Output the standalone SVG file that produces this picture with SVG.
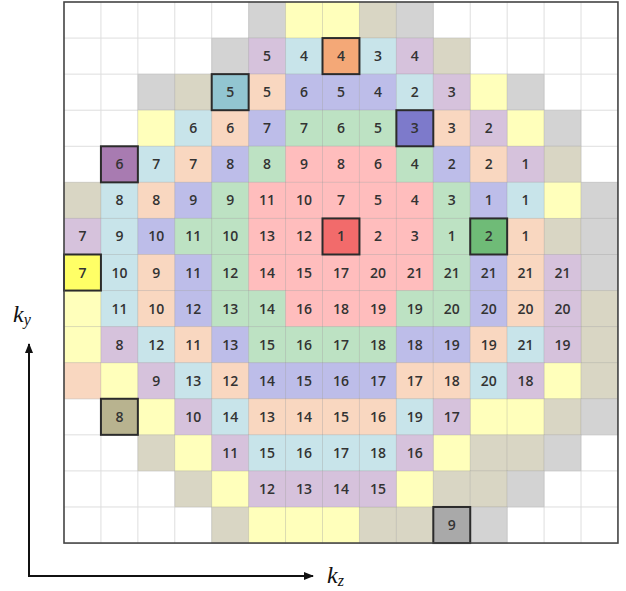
<svg xmlns="http://www.w3.org/2000/svg" width="626" height="591" viewBox="0 0 626 591">
<style>
.g{fill:#d3d3d3}.t{fill:#d9d6c4}.y{fill:#ffffbb}.lb{fill:#c8e4ea}.lv{fill:#d6c2dc}.pc{fill:#f9d7c0}.pw{fill:#bdbde9}.gn{fill:#bde2c3}.pk{fill:#ffbdbd}
#cells rect,#shading rect{stroke:rgba(110,110,110,0.14);stroke-width:1}
.h{stroke:#2b2b2b !important;stroke-width:2 !important}
text.n{font-family:"Open Sans","Liberation Sans",sans-serif;font-size:14px;font-weight:600;fill:#333;text-anchor:middle}
.ax{font-family:"Liberation Serif",serif;font-style:italic;fill:#111}
</style>
<defs>
<marker id="ah" markerWidth="10" markerHeight="8" refX="9" refY="4" orient="auto" markerUnits="userSpaceOnUse">
<path d="M0,0 L10,4 L0,8 z" fill="#111"/>
</marker>
</defs>
<rect x="0" y="0" width="626" height="591" fill="#fff"/>
<g id="grid" stroke="#dedede" stroke-width="1" fill="none">
<path d="M100.93,2V543.05M137.86,2V543.05M174.79,2V543.05M211.72,2V543.05M248.65,2V543.05M285.58,2V543.05M322.51,2V543.05M359.44,2V543.05M396.37,2V543.05M433.3,2V543.05M470.23,2V543.05M507.16,2V543.05M544.09,2V543.05M581.02,2V543.05M64,38.07H617.95M64,74.14H617.95M64,110.21H617.95M64,146.28H617.95M64,182.35H617.95M64,218.42H617.95M64,254.49H617.95M64,290.56H617.95M64,326.63H617.95M64,362.7H617.95M64,398.77H617.95M64,434.84H617.95M64,470.91H617.95M64,506.98H617.95"/>
</g>
<g id="shading">
<rect class="g" x="248.65" y="2" width="36.93" height="36.07"/>
<rect class="y" x="285.58" y="2" width="36.93" height="36.07"/>
<rect class="y" x="322.51" y="2" width="36.93" height="36.07"/>
<rect class="t" x="359.44" y="2" width="36.93" height="36.07"/>
<rect class="g" x="396.37" y="2" width="36.93" height="36.07"/>
<rect class="g" x="211.72" y="38.07" width="36.93" height="36.07"/>
<rect class="t" x="433.3" y="38.07" width="36.93" height="36.07"/>
<rect class="g" x="137.86" y="74.14" width="36.93" height="36.07"/>
<rect class="t" x="174.79" y="74.14" width="36.93" height="36.07"/>
<rect class="y" x="470.23" y="74.14" width="36.93" height="36.07"/>
<rect class="g" x="507.16" y="74.14" width="36.93" height="36.07"/>
<rect class="y" x="137.86" y="110.21" width="36.93" height="36.07"/>
<rect class="y" x="507.16" y="110.21" width="36.93" height="36.07"/>
<rect class="g" x="544.09" y="110.21" width="36.93" height="36.07"/>
<rect class="t" x="544.09" y="146.28" width="36.93" height="36.07"/>
<rect class="t" x="64" y="182.35" width="36.93" height="36.07"/>
<rect class="y" x="544.09" y="182.35" width="36.93" height="36.07"/>
<rect class="g" x="581.02" y="182.35" width="36.93" height="36.07"/>
<rect class="t" x="544.09" y="218.42" width="36.93" height="36.07"/>
<rect class="g" x="581.02" y="218.42" width="36.93" height="36.07"/>
<rect class="g" x="581.02" y="254.49" width="36.93" height="36.07"/>
<rect class="y" x="64" y="290.56" width="36.93" height="36.07"/>
<rect class="t" x="581.02" y="290.56" width="36.93" height="36.07"/>
<rect class="y" x="64" y="326.63" width="36.93" height="36.07"/>
<rect class="t" x="581.02" y="326.63" width="36.93" height="36.07"/>
<rect class="pc" x="64" y="362.7" width="36.93" height="36.07"/>
<rect class="y" x="100.93" y="362.7" width="36.93" height="36.07"/>
<rect class="y" x="544.09" y="362.7" width="36.93" height="36.07"/>
<rect class="t" x="581.02" y="362.7" width="36.93" height="36.07"/>
<rect class="y" x="137.86" y="398.77" width="36.93" height="36.07"/>
<rect class="y" x="470.23" y="398.77" width="36.93" height="36.07"/>
<rect class="y" x="507.16" y="398.77" width="36.93" height="36.07"/>
<rect class="t" x="544.09" y="398.77" width="36.93" height="36.07"/>
<rect class="g" x="581.02" y="398.77" width="36.93" height="36.07"/>
<rect class="t" x="137.86" y="434.84" width="36.93" height="36.07"/>
<rect class="y" x="174.79" y="434.84" width="36.93" height="36.07"/>
<rect class="y" x="433.3" y="434.84" width="36.93" height="36.07"/>
<rect class="t" x="470.23" y="434.84" width="36.93" height="36.07"/>
<rect class="t" x="507.16" y="434.84" width="36.93" height="36.07"/>
<rect class="g" x="544.09" y="434.84" width="36.93" height="36.07"/>
<rect class="t" x="174.79" y="470.91" width="36.93" height="36.07"/>
<rect class="y" x="211.72" y="470.91" width="36.93" height="36.07"/>
<rect class="y" x="396.37" y="470.91" width="36.93" height="36.07"/>
<rect class="t" x="433.3" y="470.91" width="36.93" height="36.07"/>
<rect class="t" x="470.23" y="470.91" width="36.93" height="36.07"/>
<rect class="g" x="507.16" y="470.91" width="36.93" height="36.07"/>
<rect class="t" x="211.72" y="506.98" width="36.93" height="36.07"/>
<rect class="y" x="248.65" y="506.98" width="36.93" height="36.07"/>
<rect class="y" x="285.58" y="506.98" width="36.93" height="36.07"/>
<rect class="y" x="322.51" y="506.98" width="36.93" height="36.07"/>
<rect class="t" x="359.44" y="506.98" width="36.93" height="36.07"/>
<rect class="t" x="396.37" y="506.98" width="36.93" height="36.07"/>
<rect class="g" x="470.23" y="506.98" width="36.93" height="36.07"/>
</g>
<g id="cells">
<g id="r1c5"><rect class="lv" x="248.65" y="38.07" width="36.93" height="36.07"/><text class="n" x="267.12" y="61">5</text></g>
<g id="r1c6"><rect class="lb" x="285.58" y="38.07" width="36.93" height="36.07"/><text class="n" x="304.05" y="61">4</text></g>
<g id="r1c8"><rect class="lb" x="359.44" y="38.07" width="36.93" height="36.07"/><text class="n" x="377.91" y="61">3</text></g>
<g id="r1c9"><rect class="lv" x="396.37" y="38.07" width="36.93" height="36.07"/><text class="n" x="414.84" y="61">4</text></g>
<g id="r2c5"><rect class="pc" x="248.65" y="74.14" width="36.93" height="36.07"/><text class="n" x="267.12" y="97.1">5</text></g>
<g id="r2c6"><rect class="pw" x="285.58" y="74.14" width="36.93" height="36.07"/><text class="n" x="304.05" y="97.1">6</text></g>
<g id="r2c7"><rect class="pw" x="322.51" y="74.14" width="36.93" height="36.07"/><text class="n" x="340.98" y="97.1">5</text></g>
<g id="r2c8"><rect class="pw" x="359.44" y="74.14" width="36.93" height="36.07"/><text class="n" x="377.91" y="97.1">4</text></g>
<g id="r2c9"><rect class="lb" x="396.37" y="74.14" width="36.93" height="36.07"/><text class="n" x="414.84" y="97.1">2</text></g>
<g id="r2c10"><rect class="lv" x="433.3" y="74.14" width="36.93" height="36.07"/><text class="n" x="451.77" y="97.1">3</text></g>
<g id="r3c3"><rect class="lb" x="174.79" y="110.21" width="36.93" height="36.07"/><text class="n" x="193.26" y="133.2">6</text></g>
<g id="r3c4"><rect class="pc" x="211.72" y="110.21" width="36.93" height="36.07"/><text class="n" x="230.19" y="133.2">6</text></g>
<g id="r3c5"><rect class="pw" x="248.65" y="110.21" width="36.93" height="36.07"/><text class="n" x="267.12" y="133.2">7</text></g>
<g id="r3c6"><rect class="gn" x="285.58" y="110.21" width="36.93" height="36.07"/><text class="n" x="304.05" y="133.2">7</text></g>
<g id="r3c7"><rect class="gn" x="322.51" y="110.21" width="36.93" height="36.07"/><text class="n" x="340.98" y="133.2">6</text></g>
<g id="r3c8"><rect class="gn" x="359.44" y="110.21" width="36.93" height="36.07"/><text class="n" x="377.91" y="133.2">5</text></g>
<g id="r3c10"><rect class="pc" x="433.3" y="110.21" width="36.93" height="36.07"/><text class="n" x="451.77" y="133.2">3</text></g>
<g id="r3c11"><rect class="lv" x="470.23" y="110.21" width="36.93" height="36.07"/><text class="n" x="488.7" y="133.2">2</text></g>
<g id="r4c2"><rect class="lb" x="137.86" y="146.28" width="36.93" height="36.07"/><text class="n" x="156.33" y="169.3">7</text></g>
<g id="r4c3"><rect class="pc" x="174.79" y="146.28" width="36.93" height="36.07"/><text class="n" x="193.26" y="169.3">7</text></g>
<g id="r4c4"><rect class="pw" x="211.72" y="146.28" width="36.93" height="36.07"/><text class="n" x="230.19" y="169.3">8</text></g>
<g id="r4c5"><rect class="gn" x="248.65" y="146.28" width="36.93" height="36.07"/><text class="n" x="267.12" y="169.3">8</text></g>
<g id="r4c6"><rect class="pk" x="285.58" y="146.28" width="36.93" height="36.07"/><text class="n" x="304.05" y="169.3">9</text></g>
<g id="r4c7"><rect class="pk" x="322.51" y="146.28" width="36.93" height="36.07"/><text class="n" x="340.98" y="169.3">8</text></g>
<g id="r4c8"><rect class="pk" x="359.44" y="146.28" width="36.93" height="36.07"/><text class="n" x="377.91" y="169.3">6</text></g>
<g id="r4c9"><rect class="gn" x="396.37" y="146.28" width="36.93" height="36.07"/><text class="n" x="414.84" y="169.3">4</text></g>
<g id="r4c10"><rect class="pw" x="433.3" y="146.28" width="36.93" height="36.07"/><text class="n" x="451.77" y="169.3">2</text></g>
<g id="r4c11"><rect class="pc" x="470.23" y="146.28" width="36.93" height="36.07"/><text class="n" x="488.7" y="169.3">2</text></g>
<g id="r4c12"><rect class="lv" x="507.16" y="146.28" width="36.93" height="36.07"/><text class="n" x="525.63" y="169.3">1</text></g>
<g id="r5c1"><rect class="lb" x="100.93" y="182.35" width="36.93" height="36.07"/><text class="n" x="119.4" y="205.4">8</text></g>
<g id="r5c2"><rect class="pc" x="137.86" y="182.35" width="36.93" height="36.07"/><text class="n" x="156.33" y="205.4">8</text></g>
<g id="r5c3"><rect class="pw" x="174.79" y="182.35" width="36.93" height="36.07"/><text class="n" x="193.26" y="205.4">9</text></g>
<g id="r5c4"><rect class="gn" x="211.72" y="182.35" width="36.93" height="36.07"/><text class="n" x="230.19" y="205.4">9</text></g>
<g id="r5c5"><rect class="pk" x="248.65" y="182.35" width="36.93" height="36.07"/><text class="n" x="267.12" y="205.4">11</text></g>
<g id="r5c6"><rect class="pk" x="285.58" y="182.35" width="36.93" height="36.07"/><text class="n" x="304.05" y="205.4">10</text></g>
<g id="r5c7"><rect class="pk" x="322.51" y="182.35" width="36.93" height="36.07"/><text class="n" x="340.98" y="205.4">7</text></g>
<g id="r5c8"><rect class="pk" x="359.44" y="182.35" width="36.93" height="36.07"/><text class="n" x="377.91" y="205.4">5</text></g>
<g id="r5c9"><rect class="pk" x="396.37" y="182.35" width="36.93" height="36.07"/><text class="n" x="414.84" y="205.4">4</text></g>
<g id="r5c10"><rect class="gn" x="433.3" y="182.35" width="36.93" height="36.07"/><text class="n" x="451.77" y="205.4">3</text></g>
<g id="r5c11"><rect class="pw" x="470.23" y="182.35" width="36.93" height="36.07"/><text class="n" x="488.7" y="205.4">1</text></g>
<g id="r5c12"><rect class="lb" x="507.16" y="182.35" width="36.93" height="36.07"/><text class="n" x="525.63" y="205.4">1</text></g>
<g id="r6c0"><rect class="lv" x="64" y="218.42" width="36.93" height="36.07"/><text class="n" x="82.47" y="241.4">7</text></g>
<g id="r6c1"><rect class="lb" x="100.93" y="218.42" width="36.93" height="36.07"/><text class="n" x="119.4" y="241.4">9</text></g>
<g id="r6c2"><rect class="pw" x="137.86" y="218.42" width="36.93" height="36.07"/><text class="n" x="156.33" y="241.4">10</text></g>
<g id="r6c3"><rect class="gn" x="174.79" y="218.42" width="36.93" height="36.07"/><text class="n" x="193.26" y="241.4">11</text></g>
<g id="r6c4"><rect class="gn" x="211.72" y="218.42" width="36.93" height="36.07"/><text class="n" x="230.19" y="241.4">10</text></g>
<g id="r6c5"><rect class="pk" x="248.65" y="218.42" width="36.93" height="36.07"/><text class="n" x="267.12" y="241.4">13</text></g>
<g id="r6c6"><rect class="pk" x="285.58" y="218.42" width="36.93" height="36.07"/><text class="n" x="304.05" y="241.4">12</text></g>
<g id="r6c8"><rect class="pk" x="359.44" y="218.42" width="36.93" height="36.07"/><text class="n" x="377.91" y="241.4">2</text></g>
<g id="r6c9"><rect class="pk" x="396.37" y="218.42" width="36.93" height="36.07"/><text class="n" x="414.84" y="241.4">3</text></g>
<g id="r6c10"><rect class="gn" x="433.3" y="218.42" width="36.93" height="36.07"/><text class="n" x="451.77" y="241.4">1</text></g>
<g id="r6c12"><rect class="pc" x="507.16" y="218.42" width="36.93" height="36.07"/><text class="n" x="525.63" y="241.4">1</text></g>
<g id="r7c1"><rect class="lb" x="100.93" y="254.49" width="36.93" height="36.07"/><text class="n" x="119.4" y="277.5">10</text></g>
<g id="r7c2"><rect class="pc" x="137.86" y="254.49" width="36.93" height="36.07"/><text class="n" x="156.33" y="277.5">9</text></g>
<g id="r7c3"><rect class="pw" x="174.79" y="254.49" width="36.93" height="36.07"/><text class="n" x="193.26" y="277.5">11</text></g>
<g id="r7c4"><rect class="gn" x="211.72" y="254.49" width="36.93" height="36.07"/><text class="n" x="230.19" y="277.5">12</text></g>
<g id="r7c5"><rect class="pk" x="248.65" y="254.49" width="36.93" height="36.07"/><text class="n" x="267.12" y="277.5">14</text></g>
<g id="r7c6"><rect class="pk" x="285.58" y="254.49" width="36.93" height="36.07"/><text class="n" x="304.05" y="277.5">15</text></g>
<g id="r7c7"><rect class="pk" x="322.51" y="254.49" width="36.93" height="36.07"/><text class="n" x="340.98" y="277.5">17</text></g>
<g id="r7c8"><rect class="pk" x="359.44" y="254.49" width="36.93" height="36.07"/><text class="n" x="377.91" y="277.5">20</text></g>
<g id="r7c9"><rect class="pk" x="396.37" y="254.49" width="36.93" height="36.07"/><text class="n" x="414.84" y="277.5">21</text></g>
<g id="r7c10"><rect class="gn" x="433.3" y="254.49" width="36.93" height="36.07"/><text class="n" x="451.77" y="277.5">21</text></g>
<g id="r7c11"><rect class="pw" x="470.23" y="254.49" width="36.93" height="36.07"/><text class="n" x="488.7" y="277.5">21</text></g>
<g id="r7c12"><rect class="pc" x="507.16" y="254.49" width="36.93" height="36.07"/><text class="n" x="525.63" y="277.5">21</text></g>
<g id="r7c13"><rect class="lv" x="544.09" y="254.49" width="36.93" height="36.07"/><text class="n" x="562.56" y="277.5">21</text></g>
<g id="r8c1"><rect class="lb" x="100.93" y="290.56" width="36.93" height="36.07"/><text class="n" x="119.4" y="313.6">11</text></g>
<g id="r8c2"><rect class="pc" x="137.86" y="290.56" width="36.93" height="36.07"/><text class="n" x="156.33" y="313.6">10</text></g>
<g id="r8c3"><rect class="pw" x="174.79" y="290.56" width="36.93" height="36.07"/><text class="n" x="193.26" y="313.6">12</text></g>
<g id="r8c4"><rect class="gn" x="211.72" y="290.56" width="36.93" height="36.07"/><text class="n" x="230.19" y="313.6">13</text></g>
<g id="r8c5"><rect class="gn" x="248.65" y="290.56" width="36.93" height="36.07"/><text class="n" x="267.12" y="313.6">14</text></g>
<g id="r8c6"><rect class="pk" x="285.58" y="290.56" width="36.93" height="36.07"/><text class="n" x="304.05" y="313.6">16</text></g>
<g id="r8c7"><rect class="pk" x="322.51" y="290.56" width="36.93" height="36.07"/><text class="n" x="340.98" y="313.6">18</text></g>
<g id="r8c8"><rect class="pk" x="359.44" y="290.56" width="36.93" height="36.07"/><text class="n" x="377.91" y="313.6">19</text></g>
<g id="r8c9"><rect class="gn" x="396.37" y="290.56" width="36.93" height="36.07"/><text class="n" x="414.84" y="313.6">19</text></g>
<g id="r8c10"><rect class="gn" x="433.3" y="290.56" width="36.93" height="36.07"/><text class="n" x="451.77" y="313.6">20</text></g>
<g id="r8c11"><rect class="pw" x="470.23" y="290.56" width="36.93" height="36.07"/><text class="n" x="488.7" y="313.6">20</text></g>
<g id="r8c12"><rect class="pc" x="507.16" y="290.56" width="36.93" height="36.07"/><text class="n" x="525.63" y="313.6">20</text></g>
<g id="r8c13"><rect class="lv" x="544.09" y="290.56" width="36.93" height="36.07"/><text class="n" x="562.56" y="313.6">20</text></g>
<g id="r9c1"><rect class="lv" x="100.93" y="326.63" width="36.93" height="36.07"/><text class="n" x="119.4" y="349.6">8</text></g>
<g id="r9c2"><rect class="lb" x="137.86" y="326.63" width="36.93" height="36.07"/><text class="n" x="156.33" y="349.6">12</text></g>
<g id="r9c3"><rect class="pc" x="174.79" y="326.63" width="36.93" height="36.07"/><text class="n" x="193.26" y="349.6">11</text></g>
<g id="r9c4"><rect class="pw" x="211.72" y="326.63" width="36.93" height="36.07"/><text class="n" x="230.19" y="349.6">13</text></g>
<g id="r9c5"><rect class="gn" x="248.65" y="326.63" width="36.93" height="36.07"/><text class="n" x="267.12" y="349.6">15</text></g>
<g id="r9c6"><rect class="gn" x="285.58" y="326.63" width="36.93" height="36.07"/><text class="n" x="304.05" y="349.6">16</text></g>
<g id="r9c7"><rect class="gn" x="322.51" y="326.63" width="36.93" height="36.07"/><text class="n" x="340.98" y="349.6">17</text></g>
<g id="r9c8"><rect class="gn" x="359.44" y="326.63" width="36.93" height="36.07"/><text class="n" x="377.91" y="349.6">18</text></g>
<g id="r9c9"><rect class="pw" x="396.37" y="326.63" width="36.93" height="36.07"/><text class="n" x="414.84" y="349.6">18</text></g>
<g id="r9c10"><rect class="pw" x="433.3" y="326.63" width="36.93" height="36.07"/><text class="n" x="451.77" y="349.6">19</text></g>
<g id="r9c11"><rect class="pc" x="470.23" y="326.63" width="36.93" height="36.07"/><text class="n" x="488.7" y="349.6">19</text></g>
<g id="r9c12"><rect class="lb" x="507.16" y="326.63" width="36.93" height="36.07"/><text class="n" x="525.63" y="349.6">21</text></g>
<g id="r9c13"><rect class="lv" x="544.09" y="326.63" width="36.93" height="36.07"/><text class="n" x="562.56" y="349.6">19</text></g>
<g id="r10c2"><rect class="lv" x="137.86" y="362.7" width="36.93" height="36.07"/><text class="n" x="156.33" y="385.7">9</text></g>
<g id="r10c3"><rect class="lb" x="174.79" y="362.7" width="36.93" height="36.07"/><text class="n" x="193.26" y="385.7">13</text></g>
<g id="r10c4"><rect class="pc" x="211.72" y="362.7" width="36.93" height="36.07"/><text class="n" x="230.19" y="385.7">12</text></g>
<g id="r10c5"><rect class="pw" x="248.65" y="362.7" width="36.93" height="36.07"/><text class="n" x="267.12" y="385.7">14</text></g>
<g id="r10c6"><rect class="pw" x="285.58" y="362.7" width="36.93" height="36.07"/><text class="n" x="304.05" y="385.7">15</text></g>
<g id="r10c7"><rect class="pw" x="322.51" y="362.7" width="36.93" height="36.07"/><text class="n" x="340.98" y="385.7">16</text></g>
<g id="r10c8"><rect class="pw" x="359.44" y="362.7" width="36.93" height="36.07"/><text class="n" x="377.91" y="385.7">17</text></g>
<g id="r10c9"><rect class="pc" x="396.37" y="362.7" width="36.93" height="36.07"/><text class="n" x="414.84" y="385.7">17</text></g>
<g id="r10c10"><rect class="pc" x="433.3" y="362.7" width="36.93" height="36.07"/><text class="n" x="451.77" y="385.7">18</text></g>
<g id="r10c11"><rect class="lb" x="470.23" y="362.7" width="36.93" height="36.07"/><text class="n" x="488.7" y="385.7">20</text></g>
<g id="r10c12"><rect class="lv" x="507.16" y="362.7" width="36.93" height="36.07"/><text class="n" x="525.63" y="385.7">18</text></g>
<g id="r11c3"><rect class="lv" x="174.79" y="398.77" width="36.93" height="36.07"/><text class="n" x="193.26" y="421.8">10</text></g>
<g id="r11c4"><rect class="lb" x="211.72" y="398.77" width="36.93" height="36.07"/><text class="n" x="230.19" y="421.8">14</text></g>
<g id="r11c5"><rect class="pc" x="248.65" y="398.77" width="36.93" height="36.07"/><text class="n" x="267.12" y="421.8">13</text></g>
<g id="r11c6"><rect class="pc" x="285.58" y="398.77" width="36.93" height="36.07"/><text class="n" x="304.05" y="421.8">14</text></g>
<g id="r11c7"><rect class="pc" x="322.51" y="398.77" width="36.93" height="36.07"/><text class="n" x="340.98" y="421.8">15</text></g>
<g id="r11c8"><rect class="pc" x="359.44" y="398.77" width="36.93" height="36.07"/><text class="n" x="377.91" y="421.8">16</text></g>
<g id="r11c9"><rect class="lb" x="396.37" y="398.77" width="36.93" height="36.07"/><text class="n" x="414.84" y="421.8">19</text></g>
<g id="r11c10"><rect class="lv" x="433.3" y="398.77" width="36.93" height="36.07"/><text class="n" x="451.77" y="421.8">17</text></g>
<g id="r12c4"><rect class="lv" x="211.72" y="434.84" width="36.93" height="36.07"/><text class="n" x="230.19" y="457.8">11</text></g>
<g id="r12c5"><rect class="lb" x="248.65" y="434.84" width="36.93" height="36.07"/><text class="n" x="267.12" y="457.8">15</text></g>
<g id="r12c6"><rect class="lb" x="285.58" y="434.84" width="36.93" height="36.07"/><text class="n" x="304.05" y="457.8">16</text></g>
<g id="r12c7"><rect class="lb" x="322.51" y="434.84" width="36.93" height="36.07"/><text class="n" x="340.98" y="457.8">17</text></g>
<g id="r12c8"><rect class="lb" x="359.44" y="434.84" width="36.93" height="36.07"/><text class="n" x="377.91" y="457.8">18</text></g>
<g id="r12c9"><rect class="lv" x="396.37" y="434.84" width="36.93" height="36.07"/><text class="n" x="414.84" y="457.8">16</text></g>
<g id="r13c5"><rect class="lv" x="248.65" y="470.91" width="36.93" height="36.07"/><text class="n" x="267.12" y="493.9">12</text></g>
<g id="r13c6"><rect class="lv" x="285.58" y="470.91" width="36.93" height="36.07"/><text class="n" x="304.05" y="493.9">13</text></g>
<g id="r13c7"><rect class="lv" x="322.51" y="470.91" width="36.93" height="36.07"/><text class="n" x="340.98" y="493.9">14</text></g>
<g id="r13c8"><rect class="lv" x="359.44" y="470.91" width="36.93" height="36.07"/><text class="n" x="377.91" y="493.9">15</text></g>
<g id="r1c7"><rect class="h" fill="#f4a877" x="322.51" y="38.07" width="36.93" height="36.07"/><text class="n" x="340.98" y="61">4</text></g>
<g id="r2c4"><rect class="h" fill="#92c5d1" x="211.72" y="74.14" width="36.93" height="36.07"/><text class="n" x="230.19" y="97.1">5</text></g>
<g id="r3c9"><rect class="h" fill="#7d7acb" x="396.37" y="110.21" width="36.93" height="36.07"/><text class="n" x="414.84" y="133.2">3</text></g>
<g id="r4c1"><rect class="h" fill="#a87bb1" x="100.93" y="146.28" width="36.93" height="36.07"/><text class="n" x="119.4" y="169.3">6</text></g>
<g id="r6c7"><rect class="h" fill="#f26b6b" x="322.51" y="218.42" width="36.93" height="36.07"/><text class="n" x="340.98" y="241.4">1</text></g>
<g id="r6c11"><rect class="h" fill="#6fbb77" x="470.23" y="218.42" width="36.93" height="36.07"/><text class="n" x="488.7" y="241.4">2</text></g>
<g id="r7c0"><rect class="h" fill="#ffff66" x="64" y="254.49" width="36.93" height="36.07"/><text class="n" x="82.47" y="277.5">7</text></g>
<g id="r11c1"><rect class="h" fill="#b8b38f" x="100.93" y="398.77" width="36.93" height="36.07"/><text class="n" x="119.4" y="421.8">8</text></g>
<g id="r14c10"><rect class="h" fill="#a9a9a9" x="433.3" y="506.98" width="36.93" height="36.07"/><text class="n" x="451.77" y="530">9</text></g>
</g>
<rect id="frame" x="64" y="2" width="553.95" height="541.05" fill="none" stroke="#444" stroke-width="1.6"/>
<g id="connectors" stroke="#111" stroke-width="2" fill="none">
<path d="M29,576 V344" marker-end="url(#ah)"/>
<path d="M28,576 H313" marker-end="url(#ah)"/>
</g>
<g id="axis-labels">
<text class="ax" x="13" y="322" font-size="24">k<tspan font-size="16" dy="3">y</tspan></text>
<text class="ax" x="327" y="583" font-size="24">k<tspan font-size="16" dy="3">z</tspan></text>
</g>
</svg>
